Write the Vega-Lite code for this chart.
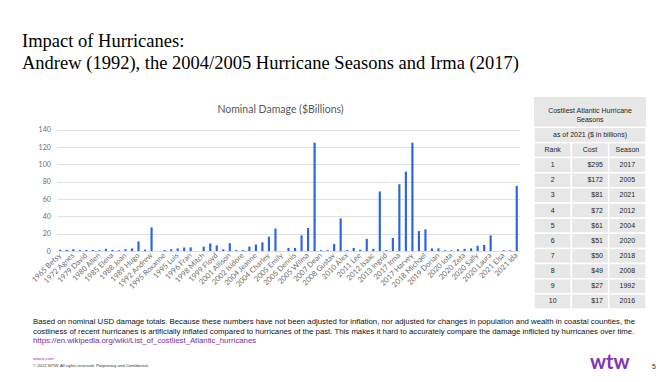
{
  "$schema": "https://vega.github.io/schema/vega-lite/v6.json",
  "background": "white",
  "padding": {"left": 22, "top": 31, "right": 4, "bottom": 4},
  "title": {
    "text": ["Impact of Hurricanes:", "Andrew (1992), the 2004/2005 Hurricane Seasons and Irma (2017)"],
    "font": "Liberation Serif", "fontSize": 18.5, "fontWeight": "normal", "color": "#000000",
    "anchor": "start", "lineHeight": 22, "offset": 25
  },
  "datasets": {
    "damage": [
      {"name": "1965 Betsy", "value": 1.4}, {"name": "1969 Camille", "value": 1.4},
      {"name": "1972 Agnes", "value": 2.1}, {"name": "1975 Eloise", "value": 1.0},
      {"name": "1979 David", "value": 1.2}, {"name": "1979 Frederic", "value": 1.1},
      {"name": "1980 Allen", "value": 1.0}, {"name": "1983 Alicia", "value": 2.5},
      {"name": "1985 Elena", "value": 1.3}, {"name": "1985 Gloria", "value": 0.9},
      {"name": "1988 Joan", "value": 2.0}, {"name": "1988 Gilbert", "value": 3.0},
      {"name": "1989 Hugo", "value": 11}, {"name": "1991 Bob", "value": 1.5},
      {"name": "1992 Andrew", "value": 27.3}, {"name": "1993 Emily", "value": 0},
      {"name": "1995 Roxanne", "value": 1.2}, {"name": "1995 Marilyn", "value": 2.1},
      {"name": "1995 Luis", "value": 3.0}, {"name": "1995 Opal", "value": 4.0},
      {"name": "1996 Fran", "value": 4.2}, {"name": "1998 Bonnie", "value": 0},
      {"name": "1998 Mitch", "value": 5.0}, {"name": "1998 Georges", "value": 8.7},
      {"name": "1999 Floyd", "value": 6.5}, {"name": "2000 Keith", "value": 2.0},
      {"name": "2001 Allison", "value": 9.0}, {"name": "2001 Iris", "value": 1.0},
      {"name": "2002 Isidore", "value": 1.0}, {"name": "2003 Isabel", "value": 5.2},
      {"name": "2004 Jeanne", "value": 7.5}, {"name": "2004 Frances", "value": 10},
      {"name": "2004 Charley", "value": 16.5}, {"name": "2004 Ivan", "value": 26},
      {"name": "2005 Emily", "value": 0}, {"name": "2005 Stan", "value": 3.5},
      {"name": "2005 Dennis", "value": 3.5}, {"name": "2005 Rita", "value": 18},
      {"name": "2005 Wilma", "value": 26.5}, {"name": "2005 Katrina", "value": 125},
      {"name": "2007 Dean", "value": 1.0}, {"name": "2007 Felix", "value": 1.0},
      {"name": "2008 Gustav", "value": 8.0}, {"name": "2008 Ike", "value": 37.5},
      {"name": "2010 Alex", "value": 1.0}, {"name": "2010 Karl", "value": 3.5},
      {"name": "2011 Lee", "value": 1.5}, {"name": "2011 Irene", "value": 14},
      {"name": "2012 Isaac", "value": 2.5}, {"name": "2012 Sandy", "value": 68.7},
      {"name": "2013 Ingrid", "value": 1.0}, {"name": "2016 Matthew", "value": 15.1},
      {"name": "2017 Irma", "value": 77}, {"name": "2017 Maria", "value": 91.6},
      {"name": "2017 Harvey", "value": 125}, {"name": "2018 Florence", "value": 23},
      {"name": "2018 Michael", "value": 25}, {"name": "2019 Imelda", "value": 3.0},
      {"name": "2019 Dorian", "value": 3.0}, {"name": "2020 Hanna", "value": 0.8},
      {"name": "2020 Iota", "value": 0.8}, {"name": "2020 Isaias", "value": 2.0},
      {"name": "2020 Zeta", "value": 2.5}, {"name": "2020 Delta", "value": 3.0},
      {"name": "2020 Sally", "value": 6.0}, {"name": "2020 Eta", "value": 7.0},
      {"name": "2020 Laura", "value": 18}, {"name": "2020 Marco", "value": 0},
      {"name": "2021 Elsa", "value": 0.8}, {"name": "2021 Nicholas", "value": 0.8},
      {"name": "2021 Ida", "value": 75}
    ],
    "seasons": [
      {"Rank": "Rank", "Cost": "Cost", "Season": "Season"},
      {"Rank": "1", "Cost": "$295", "Season": "2017"},
      {"Rank": "2", "Cost": "$172", "Season": "2005"},
      {"Rank": "3", "Cost": "$81", "Season": "2021"},
      {"Rank": "4", "Cost": "$72", "Season": "2012"},
      {"Rank": "5", "Cost": "$61", "Season": "2004"},
      {"Rank": "6", "Cost": "$51", "Season": "2020"},
      {"Rank": "7", "Cost": "$50", "Season": "2018"},
      {"Rank": "8", "Cost": "$49", "Season": "2008"},
      {"Rank": "9", "Cost": "$27", "Season": "1992"},
      {"Rank": "10", "Cost": "$17", "Season": "2016"}
    ],
    "tableTitle": [
      {"row": "t1", "text": "Costliest Atlantic Hurricane"},
      {"row": "t2", "text": "Seasons"},
      {"row": "asof", "text": "as of 2021 ($ in billions)"}
    ]
  },
  "spacing": 8,
  "vconcat": [
    {
      "title": {
        "text": [
          "Based on nominal USD damage totals. Because these numbers have not been adjusted for inflation, nor adjusted for changes in population and wealth in coastal counties, the",
          "costliness of recent hurricanes is artificially inflated compared to hurricanes of the past. This makes it hard to accurately compare the damage inflicted by hurricanes over time."
        ],
        "subtitle": "https://en.wikipedia.org/wiki/List_of_costliest_Atlantic_hurricanes",
        "orient": "bottom", "anchor": "start", "frame": "group",
        "font": "Liberation Sans", "fontSize": 7.8, "fontWeight": "normal", "color": "#111111", "lineHeight": 10,
        "subtitleFont": "Liberation Sans", "subtitleFontSize": 7.8, "subtitleColor": "#7030a0", "subtitlePadding": 1,
        "offset": 8, "dx": -24
      },
      "spacing": 13,
      "hconcat": [
        {
          "width": 463, "height": 154,
          "view": {"stroke": null},
          "layer": [
            {
              "data": {"name": "damage"},
              "mark": {"type": "bar", "color": "#2a63e6"},
              "encoding": {
                "x": {
                  "field": "name", "type": "nominal", "sort": null, "title": null,
                  "scale": {"paddingInner": 0.67, "paddingOuter": 0.335},
                  "axis": {
                    "values": ["1965 Betsy","1972 Agnes","1979 David","1980 Allen","1985 Elena","1988 Joan","1989 Hugo","1992 Andrew","1995 Roxanne","1995 Luis","1996 Fran","1998 Mitch","1999 Floyd","2001 Allison","2002 Isidore","2004 Jeanne","2004 Charley","2005 Emily","2005 Dennis","2005 Wilma","2007 Dean","2008 Gustav","2010 Alex","2011 Lee","2012 Isaac","2013 Ingrid","2017 Irma","2017 Harvey","2018 Michael","2019 Dorian","2020 Iota","2020 Zeta","2020 Sally","2020 Laura","2021 Elsa","2021 Ida"],
                    "labelAngle": -45, "labelAlign": "right", "labelBaseline": "middle",
                    "labelFont": "Lato", "labelFontSize": 7.5, "labelColor": "#6d6d6d",
                    "labelPadding": 3, "labelOverlap": false, "labelBound": false, "labelFlush": false,
                    "ticks": false, "domainColor": "#d9d9d9", "domainWidth": 0.8
                  }
                },
                "y": {
                  "field": "value", "type": "quantitative", "title": null,
                  "scale": {"domain": [0, 177.7], "nice": false},
                  "axis": {
                    "values": [0, 20, 40, 60, 80, 100, 120, 140],
                    "grid": true, "gridColor": "#d9d9d9", "gridWidth": 0.8,
                    "domain": false, "ticks": false, "labelOverlap": false,
                    "labelFont": "Lato", "labelFontSize": 7, "labelColor": "#6d6d6d",
                    "labelPadding": 6.7, "minExtent": 35
                  }
                }
              }
            },
            {
              "data": {"values": [{"chartTitle": "Nominal Damage ($Billions)"}]},
              "mark": {"type": "text", "font": "Lato", "fontSize": 10.5, "color": "#595959", "align": "center", "baseline": "middle", "dx": -8},
              "encoding": {
                "y": {
                  "datum": 163, "type": "quantitative", "title": null,
                  "axis": {
                    "values": [0, 20, 40, 60, 80, 100, 120, 140],
                    "grid": true, "gridColor": "#d9d9d9", "gridWidth": 0.8,
                    "domain": false, "ticks": false, "labelOverlap": false,
                    "labelFont": "Lato", "labelFontSize": 7, "labelColor": "#6d6d6d",
                    "labelPadding": 6.7, "minExtent": 35
                  }
                },
                "text": {"field": "chartTitle"}
              }
            }
          ]
        },
        {
          "width": 112, "height": 212,
          "view": {"stroke": null, "fill": "#e7e7e7"},
          "layer": [
            {
              "data": {"name": "seasons"},
              "transform": [{"fold": ["Rank", "Cost", "Season"], "as": ["col", "text"]}],
              "mark": {"type": "rect", "fill": "#e7e7e7", "stroke": "white", "strokeWidth": 1.5},
              "encoding": {
                "x": {"field": "col", "type": "nominal", "scale": {"domain": ["Rank", "Cost", "Season"], "paddingInner": 0, "paddingOuter": 0}, "axis": null},
                "y": {"field": "Rank", "type": "nominal", "scale": {"domain": ["t1","t2","asof","Rank","1","2","3","4","5","6","7","8","9","10"], "paddingInner": 0, "paddingOuter": 0}, "axis": null}
              }
            },
            {
              "data": {"name": "tableTitle"},
              "transform": [{"filter": "datum.row == 'asof'"}],
              "mark": {"type": "rect", "fill": "#e7e7e7", "stroke": "white", "strokeWidth": 1.5},
              "encoding": {
                "y": {"field": "row", "type": "nominal", "axis": null}
              }
            },
            {
              "data": {"name": "seasons"},
              "transform": [
                {"fold": ["Rank", "Cost", "Season"], "as": ["col", "text"]},
                {"filter": "datum.col != 'Cost' || datum.Rank == 'Rank'"}
              ],
              "mark": {"type": "text", "font": "Liberation Sans", "fontSize": 7, "color": "#262626", "align": "center"},
              "encoding": {
                "x": {"field": "col", "type": "nominal", "axis": null},
                "y": {"field": "Rank", "type": "nominal", "axis": null},
                "text": {"field": "text"}
              }
            },
            {
              "data": {"name": "seasons"},
              "transform": [
                {"fold": ["Rank", "Cost", "Season"], "as": ["col", "text"]},
                {"filter": "datum.col == 'Cost' && datum.Rank != 'Rank'"}
              ],
              "mark": {"type": "text", "font": "Liberation Sans", "fontSize": 7, "color": "#262626", "align": "right", "dx": 13},
              "encoding": {
                "x": {"field": "col", "type": "nominal", "axis": null},
                "y": {"field": "Rank", "type": "nominal", "axis": null},
                "text": {"field": "text"}
              }
            },
            {
              "data": {"name": "tableTitle"},
              "transform": [{"filter": "datum.row == 't1'"}],
              "mark": {"type": "text", "font": "Liberation Sans", "fontSize": 7, "color": "#262626", "align": "center", "dy": 6},
              "encoding": {
                "y": {"field": "row", "type": "nominal", "axis": null},
                "text": {"field": "text"}
              }
            },
            {
              "data": {"name": "tableTitle"},
              "transform": [{"filter": "datum.row != 't1'"}],
              "mark": {"type": "text", "font": "Liberation Sans", "fontSize": 7, "color": "#262626", "align": "center"},
              "encoding": {
                "y": {"field": "row", "type": "nominal", "axis": null},
                "text": {"field": "text"}
              }
            }
          ]
        }
      ]
    },
    {
      "bounds": "flush",
      "spacing": 0,
      "hconcat": [
        {
          "width": 533, "height": 1,
          "view": {"stroke": null},
          "data": {"values": []},
          "mark": "text",
          "encoding": {},
          "title": {
            "text": "wtwco.com", "subtitle": "© 2022 WTW. All rights reserved. Proprietary and Confidential.",
            "anchor": "start", "font": "Liberation Sans", "fontSize": 4.2, "fontWeight": "normal", "color": "#7f35b2",
            "subtitleFont": "Liberation Sans", "subtitleFontSize": 4.2, "subtitleColor": "#333333", "subtitlePadding": 3,
            "offset": 2, "dx": -24
          }
        },
        {
          "width": 62, "height": 1,
          "view": {"stroke": null},
          "data": {"values": []},
          "mark": "text",
          "encoding": {},
          "title": {"text": "wtw", "anchor": "start", "font": "Lato", "fontSize": 20, "fontWeight": "bold", "color": "#7f35b2", "offset": 0, "dy": 3}
        },
        {
          "width": 6, "height": 1,
          "view": {"stroke": null},
          "data": {"values": []},
          "mark": "text",
          "encoding": {},
          "title": {"text": "5", "anchor": "start", "font": "Liberation Sans", "fontSize": 7, "fontWeight": "normal", "color": "#333333", "offset": 0}
        }
      ]
    }
  ]
}
